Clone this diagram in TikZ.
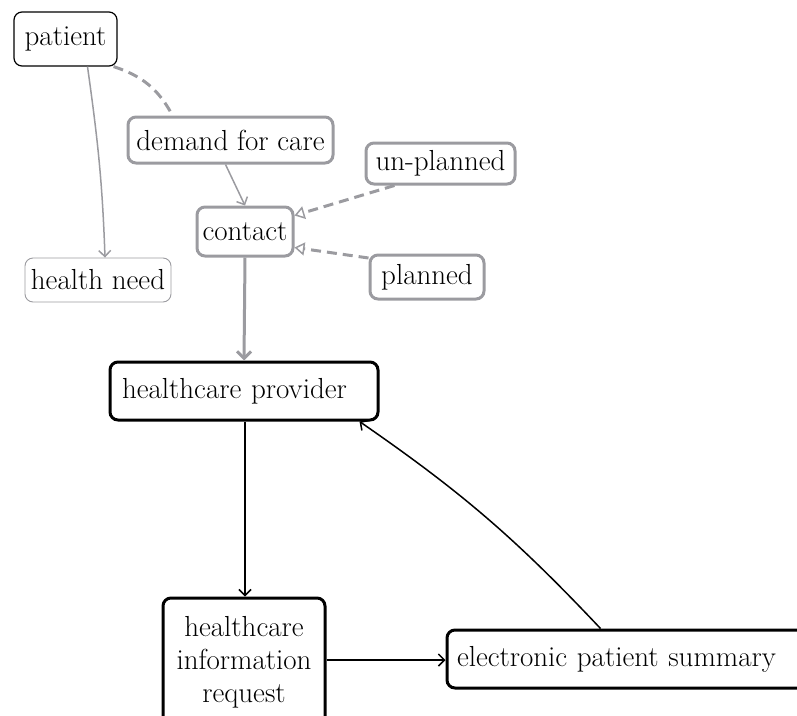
\documentclass[tikz,border=0pt]{standalone}
\usetikzlibrary{arrows.meta,positioning}

\definecolor{boxgray}{RGB}{155,155,160}

\begin{document}
\begin{tikzpicture}
    [
        x=1pt, y=1pt,
        font=\fontsize{29}{33}\selectfont,
        Box1/.style={rectangle,rounded corners=8pt,draw,line width=1.2pt,inner sep=0pt,align=center},
        Box2/.style={rectangle,rounded corners=8pt,draw=boxgray,line width=0.9pt,inner sep=0pt,align=center},
        Box3/.style={rectangle,rounded corners=8pt,draw=boxgray,line width=3pt,inner sep=0pt,align=center},
        Box4/.style={rectangle,rounded corners=8pt,draw,line width=3pt,inner sep=0pt},
        Link1/.style={draw=boxgray,line width=1.5pt,-{Straight Barb[length=6pt,width=12pt]}},
        Link2/.style={draw=boxgray,line width=3pt,dash pattern=on 10pt off 6pt},
        Link3/.style={draw=boxgray,line width=3pt,dash pattern=on 10pt off 6pt,-{Triangle[open,length=10pt,width=13pt,line width=1.5pt]}},
        Link4/.style={draw=boxgray,line width=3pt,-{Straight Barb[length=7pt,width=14pt]}},
        Link5/.style={draw,line width=1.5pt,-{Straight Barb[length=6pt,width=12pt]}}
    ]

    \useasboundingbox (0,0) rectangle (797,-715);
    \clip (0,0) rectangle (797,-715);

    \node[Box1,minimum width=103pt,minimum height=54pt] (patient) at (65.5,-39) {patient};
    \node[Box2,minimum width=146pt,minimum height=44pt] (health_need) at (98,-280) {health need};
    \node[Box3,minimum width=205pt,minimum height=46pt] (demand_for_care) at (230.5,-140) {demand for care};
    \node[Box3,minimum width=149pt,minimum height=41pt] (un_planned) at (440.5,-163.5) {un-planned};
    \node[Box3,minimum width=96pt,minimum height=49pt] (contact) at (245,-231.5) {contact};
    \node[Box3,minimum width=114pt,minimum height=44pt] (planned) at (427,-277) {planned};
    \node[Box4,minimum width=268pt,minimum height=58pt,text width=244pt,align=left] (healthcare_provider) at (244,-391) {healthcare provider};
    \node[Box4,minimum width=162pt,minimum height=128pt,align=center] (information_request) at (244,-662) {healthcare\\information\\request};
    \node[Box4,minimum width=383pt,minimum height=58pt,text width=363pt,align=left] (patient_summary) at (638.5,-659) {electronic patient summary};

    \draw[Link1] ([xshift=22pt]patient.south) to[out=-82,in=92] ([xshift=7pt]health_need.north);
    \draw[Link2] ([xshift=-4pt]patient.south east) to[out=-18,in=118] ([xshift=-58pt]demand_for_care.north);
    \draw[Link1] ([xshift=-5pt]demand_for_care.south) -- (contact.north);
    \draw[Link3] ([xshift=-46pt]un_planned.south) -- ([yshift=16pt]contact.east);
    \draw[Link3] ([yshift=19pt]planned.west) -- ([yshift=-16pt]contact.east);
    \draw[Link4] (contact.south) -- (healthcare_provider.north);
    \draw[Link5] ([xshift=1pt]healthcare_provider.south) -- ([xshift=1pt]information_request.north);
    \draw[Link5] ([yshift=2pt]information_request.east) -- ([yshift=-1pt]patient_summary.west);
    \draw[Link5] ([xshift=-38pt]patient_summary.north) to[bend right=6] ([xshift=-20pt]healthcare_provider.south east);
\end{tikzpicture}
\end{document}
